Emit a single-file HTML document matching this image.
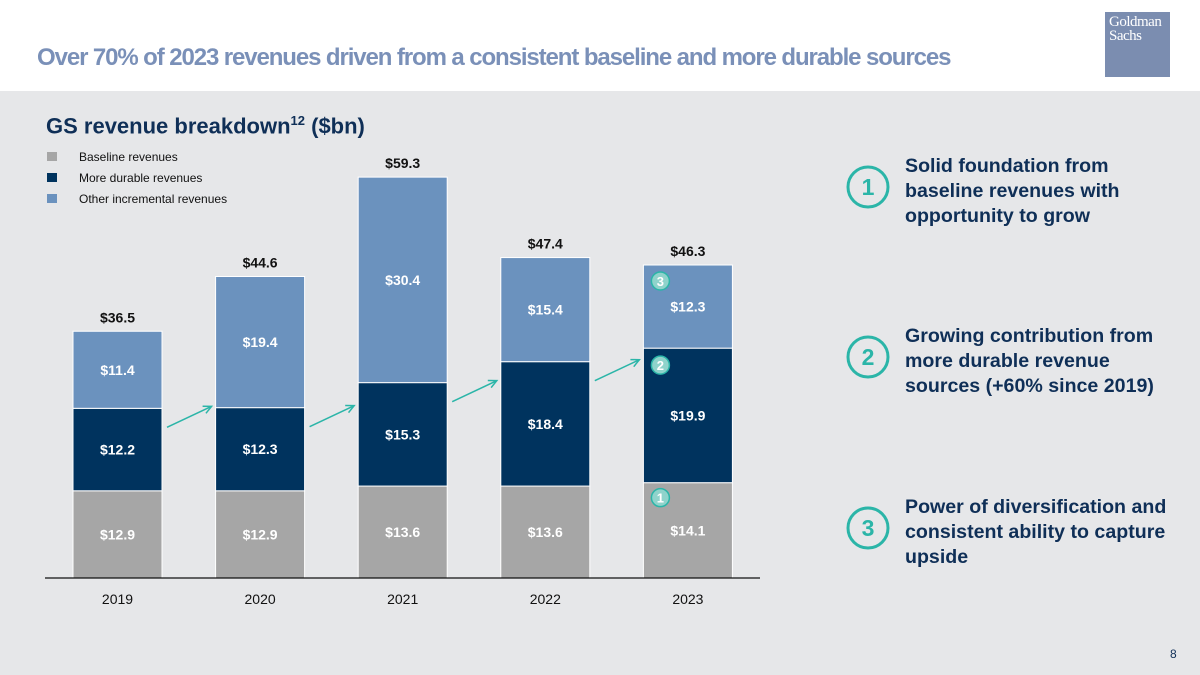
<!DOCTYPE html>
<html><head><meta charset="utf-8"><style>
body{margin:0;width:1200px;height:675px;overflow:hidden;background:#fff;font-family:"Liberation Sans",sans-serif;position:relative}
.abs{position:absolute}
</style></head><body>
<div class="abs" style="left:37px;top:44px;font-size:24px;font-weight:bold;color:#7a90b8;letter-spacing:-1.1px;white-space:nowrap">Over 70% of 2023 revenues driven from a consistent baseline and more durable sources</div>
<div class="abs" style="left:1105px;top:12px;width:65px;height:65px;background:#7b8db0;color:#fff;font-family:'Liberation Serif',serif;font-size:15px;line-height:14px;padding:3px 0 0 4px;box-sizing:border-box;letter-spacing:-0.5px">Goldman<br>Sachs</div>
<div class="abs" style="left:0;top:91px;width:1200px;height:584px;background:#e6e7e9"></div>
<div class="abs" style="left:46px;top:113px;font-size:22px;font-weight:bold;color:#0f2f57">GS revenue breakdown<sup style="font-size:13px">12</sup> ($bn)</div>
<svg class="abs" style="left:0;top:0" width="1200" height="675" id="chart"></svg>
<div class="abs" style="left:1170px;top:647px;font-size:12px;color:#0f2f57">8</div>
<script>
const years=["2019","2020","2021","2022","2023"];
const baseline=[12.9,12.9,13.6,13.6,14.1];
const durable=[12.2,12.3,15.3,18.4,19.9];
const other=[11.4,19.4,30.4,15.4,12.3];
const totals=["$36.5","$44.6","$59.3","$47.4","$46.3"];
const svg=document.getElementById('chart');const NS='http://www.w3.org/2000/svg';
const y0=578,k=6.76,barW=89;
const xb=i=>73+i*142.6;
const y=v=>y0-v*k;
function el(t,a,name,txt){const e=document.createElementNS(NS,t);for(const n in a)e.setAttribute(n,a[n]);


if(txt!==undefined)e.textContent=txt;svg.appendChild(e);return e;}
const cols=['#a6a6a6','#00335e','#6b92be'];
const series=[baseline,durable,other];const sn=['baseline','durable','other'];
years.forEach((yr,i)=>{let acc=0;
series.forEach((s,j)=>{const v=s[i];
el('rect',{x:xb(i),y:y(acc+v),width:barW,height:v*k,fill:cols[j],stroke:'#fff','stroke-width':1},'bar-'+sn[j]+'-'+yr);
el('text',{x:xb(i)+barW/2,y:y(acc+v/2)+5,'text-anchor':'middle','font-size':14,'font-weight':'bold',fill:'#fff','font-family':'Liberation Sans'},'value-'+sn[j]+'-'+yr,'$'+v.toFixed(1));
acc+=v;});
el('text',{x:xb(i)+barW/2,y:y(acc)-9,'text-anchor':'middle','font-size':14,'font-weight':'bold',fill:'#111','font-family':'Liberation Sans'},'total-'+yr,totals[i]);
el('text',{x:xb(i)+barW/2,y:604,'text-anchor':'middle','font-size':14,fill:'#111','font-family':'Liberation Sans'},'x-label-'+yr,yr);
});
el('line',{x1:45,x2:760,y1:y0,y2:y0,stroke:'#111','stroke-width':1.2},'x-axis');
for(let i=0;i<4;i++){const x1=xb(i)+barW+5,x2=xb(i+1)-4;const ya=y(baseline[i]+durable[i])+19,yb=ya-21;
el('line',{x1:x1,y1:ya,x2:x2,y2:yb,stroke:'#2bb5a8','stroke-width':1.5},'growth-arrow');
const a=Math.atan2(yb-ya,x2-x1);const h=9;
el('polyline',{points:`${x2-h*Math.cos(a-0.45)},${yb-h*Math.sin(a-0.45)} ${x2},${yb} ${x2-h*Math.cos(a+0.45)},${yb-h*Math.sin(a+0.45)}`,fill:'none',stroke:'#2bb5a8','stroke-width':1.5},'growth-arrowhead');}
const bx=xb(4)+17;const badges=[[y(baseline[4])+15,'1'],[y(baseline[4]+durable[4])+17,'2'],[y(baseline[4]+durable[4]+other[4])+16,'3']];
badges.forEach(b=>{el('circle',{cx:bx,cy:b[0],r:9,fill:'#8fd3cb',stroke:'#2bb5a8','stroke-width':1.5},'badge-'+b[1]);
el('text',{x:bx,y:b[0]+5,'text-anchor':'middle','font-size':13,'font-weight':'bold',fill:'#fff','font-family':'Liberation Sans'},'badge-label-'+b[1],b[1]);});
const ln=['Baseline revenues','More durable revenues','Other incremental revenues'];
ln.forEach((t,j)=>{el('rect',{x:47,y:152+j*21,width:10,height:9,fill:cols[j]},'legend-swatch-'+sn[j]);
el('text',{x:79,y:161+j*21,'font-size':12,fill:'#111','font-family':'Liberation Sans'},'legend-entry-'+sn[j],t);});
const callouts=[[187,['Solid foundation from','baseline revenues with','opportunity to grow'],'1'],[357,['Growing contribution from','more durable revenue','sources (+60% since 2019)'],'2'],[528,['Power of diversification and','consistent ability to capture','upside'],'3']];
callouts.forEach(c=>{el('circle',{cx:868,cy:c[0],r:20,fill:'none',stroke:'#2bb5a8','stroke-width':3},'callout-circle-'+c[2]);
el('text',{x:868,y:c[0]+8,'text-anchor':'middle','font-size':23,'font-weight':'bold',fill:'#2bb5a8','font-family':'Liberation Sans'},'callout-number-'+c[2],c[2]);
c[1].forEach((l,m)=>el('text',{x:905,y:c[0]-15+m*25,'font-size':19.6,'font-weight':'bold',fill:'#0f2f57','font-family':'Liberation Sans'},'callout-text-'+c[2],l));});
</script>
</body></html>
